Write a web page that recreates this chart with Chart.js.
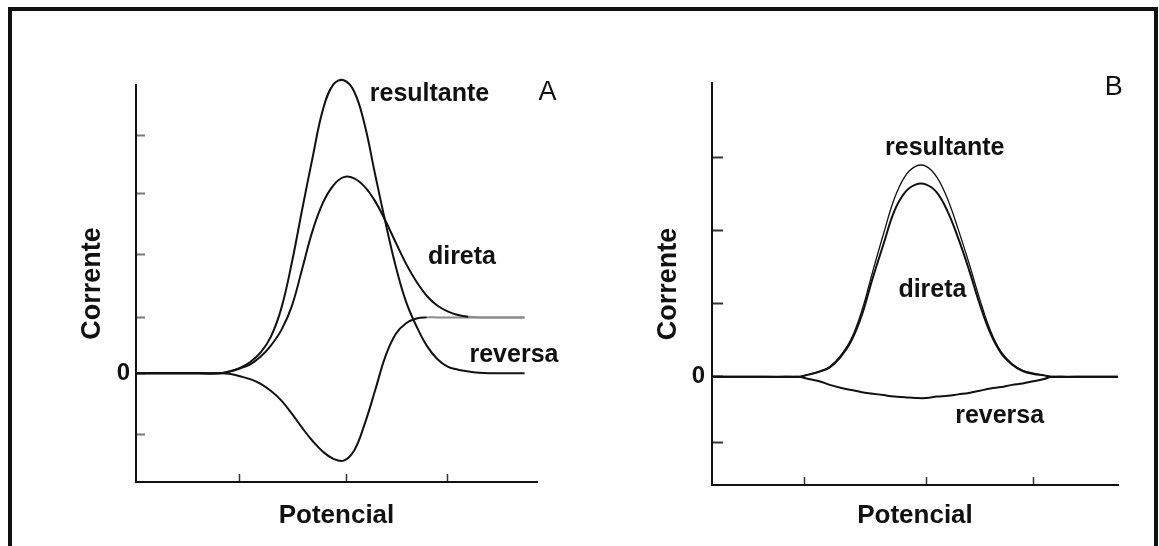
<!DOCTYPE html>
<html>
<head>
<meta charset="utf-8">
<script src="https://cdn.jsdelivr.net/npm/chart.js@4"></script>
<style>
  body { margin: 0; background: #fff; width: 1159px; height: 546px; overflow: hidden; position: relative; }
  #frame { position: absolute; left: 8px; top: 7px; width: 1150px; height: 600px; border: 4px solid #111; box-sizing: border-box; }
  canvas { position: absolute; }
</style>
</head>
<body>
<div id="frame"></div>
<canvas id="chartA" width="540" height="520" style="left:20px;top:20px"></canvas>
<canvas id="chartB" width="540" height="520" style="left:600px;top:20px"></canvas>
<script>
// panel A - potencial (x) and the three currents
var xA = [0, 0.5, 0.8, 0.9, 1.0, 1.1, 1.2, 1.3, 1.4, 1.5, 1.6, 1.7, 1.8, 1.9, 2.0, 2.1, 2.2, 2.3, 2.4, 2.5, 2.6, 2.7, 2.8, 2.9, 3.0, 3.1, 3.2, 3.3, 3.4, 3.5, 3.74];
var resultanteA = [0, 0, 0, 0.03, 0.09, 0.19, 0.35, 0.62, 1.10, 1.86, 2.76, 3.63, 4.44, 4.86, 4.93, 4.74, 4.19, 3.36, 2.55, 1.80, 1.20, 0.79, 0.46, 0.24, 0.11, 0.06, 0.03, 0.01, 0, 0, 0];
var diretaA = [0, 0, 0, 0.03, 0.08, 0.15, 0.28, 0.47, 0.73, 1.13, 1.76, 2.40, 2.87, 3.16, 3.30, 3.28, 3.14, 2.90, 2.57, 2.20, 1.84, 1.54, 1.30, 1.14, 1.04, 0.98, 0.95, 0.94, 0.94, 0.94, 0.94];
var reversaA = [0, 0, 0, -0.01, -0.05, -0.10, -0.18, -0.30, -0.46, -0.68, -0.92, -1.14, -1.32, -1.44, -1.47, -1.30, -0.86, -0.30, 0.28, 0.66, 0.84, 0.92, 0.94, 0.94, 0.94, 0.94, 0.94, 0.94, 0.94, 0.94, 0.94];
var xTicksA = [1, 2.03, 3.0];
var yTicksA = [-1.03, 0, 0.93, 2.0, 3.03, 4.0];

// panel B
var xB = [0, 0.5, 0.8, 0.9, 1.0, 1.1, 1.2, 1.3, 1.4, 1.5, 1.6, 1.7, 1.8, 1.9, 2.0, 2.1, 2.2, 2.3, 2.4, 2.5, 2.6, 2.7, 2.8, 2.9, 3.0, 3.1, 3.17, 3.4, 3.79];
var resultanteB = [0, 0, 0, 0.03, 0.07, 0.14, 0.29, 0.52, 0.91, 1.44, 1.95, 2.43, 2.74, 2.88, 2.88, 2.73, 2.43, 2.01, 1.55, 1.06, 0.63, 0.34, 0.18, 0.09, 0.05, 0.02, 0, 0, 0];
var diretaB = [0, 0, 0, 0.03, 0.07, 0.13, 0.27, 0.49, 0.85, 1.35, 1.81, 2.26, 2.52, 2.63, 2.63, 2.52, 2.26, 1.89, 1.46, 0.99, 0.59, 0.32, 0.17, 0.08, 0.04, 0.02, 0, 0, 0];
var reversaB = [0, 0, 0, -0.03, -0.06, -0.11, -0.15, -0.18, -0.21, -0.23, -0.25, -0.27, -0.28, -0.29, -0.29, -0.27, -0.26, -0.24, -0.22, -0.19, -0.16, -0.14, -0.11, -0.09, -0.06, -0.03, 0, 0, 0];
var xTicksB = [0.86, 2, 3];
var yTicksB = [-0.9, 0, 1, 2, 3];

// curve labels, placed in data units
var labelsA = ['resultante', 'direta', 'reversa'];
var labelXA = [2.25, 2.81, 3.21];
var labelYA = [4.58, 1.84, 0.19];
var labelsB = ['resultante', 'direta', 'reversa'];
var labelXB = [1.615, 1.74, 2.27];
var labelYB = [3.03, 1.09, -0.63];
var panelLetter = ['A', 'B'];
var letterX = [3.96, 3.75];
var letterY = [4.6, 3.85];

Chart.defaults.font.family = '"Liberation Sans", Arial, sans-serif';
Chart.defaults.color = '#000';

function pts(xs, ys) {
  return xs.map(function (x, i) { return {x: x, y: ys[i]}; });
}

// the flat part on the right of panel A is drawn lighter in the original
function plateauGray(ctx) {
  var a = ctx.p0.parsed, b = ctx.p1.parsed;
  if (a.x >= 2.8 && Math.abs(a.y - 0.94) < 0.02 && Math.abs(b.y - 0.94) < 0.02) return '#8a8a8a';
  return undefined;
}

var labelPlugin = {
  id: 'curveLabels',
  afterDatasetsDraw: function (chart, args, opts) {
    var ctx = chart.ctx, sx = chart.scales.x, sy = chart.scales.y;
    ctx.save();
    ctx.fillStyle = '#111';
    ctx.textBaseline = 'alphabetic';
    ctx.font = 'bold 25px "Liberation Sans", Arial, sans-serif';
    ctx.textAlign = 'left';
    opts.texts.forEach(function (t, i) {
      ctx.fillText(t, sx.getPixelForValue(opts.xs[i]), sy.getPixelForValue(opts.ys[i]));
    });
    ctx.font = '27px "Liberation Sans", Arial, sans-serif';
    ctx.textAlign = 'center';
    ctx.fillText(opts.letter, sx.getPixelForValue(opts.lx), sy.getPixelForValue(opts.ly));
    ctx.restore();
  }
};

function makeChart(id, p) {
  var line = function (label, data, w) {
    return {
      label: label, data: data, borderColor: '#111', borderWidth: w,
      pointRadius: 0, tension: 0.4, clip: false,
      segment: p.gray ? {borderColor: plateauGray} : {}
    };
  };
  return new Chart(document.getElementById(id), {
    type: 'line',
    data: {
      datasets: [
        line('resultante', pts(p.x, p.res), p.resWidth),
        line('direta', pts(p.x, p.dir), 2),
        line('reversa', pts(p.x, p.rev), 2)
      ]
    },
    options: {
      responsive: false,
      animation: false,
      events: [],
      layout: {padding: {left: p.padLeft, top: p.padTop, right: p.padRight, bottom: 0}},
      plugins: {
        legend: {display: false},
        tooltip: {enabled: false},
        curveLabels: {texts: p.labels, xs: p.lx, ys: p.ly, letter: p.letter, lx: p.letX, ly: p.letY}
      },
      scales: {
        x: {
          type: 'linear', min: 0, max: p.xMax,
          afterBuildTicks: function (s) { s.ticks = p.xTicks.map(function (v) { return {value: v}; }); },
          afterFit: function (s) { s.height = p.xHeight; },
          ticks: {display: false},
          grid: {drawOnChartArea: false, tickLength: -8, tickColor: '#333', tickWidth: 1.5},
          border: {color: '#111', width: 2},
          title: {display: true, text: 'Potencial', font: {size: 26, weight: 'bold'}, color: '#111', padding: {top: 0, bottom: 9}}
        },
        y: {
          type: 'linear', min: p.yMin, max: p.yMax,
          afterBuildTicks: function (s) { s.ticks = p.yTicks.map(function (v) { return {value: v}; }); },
          afterFit: function (s) { s.width = 76; },
          ticks: {
            padding: p.tickPad, color: '#111', font: {size: 24, weight: 'bold'},
            callback: function (v) { return v === 0 ? '0' : ''; }
          },
          grid: {drawOnChartArea: false, tickLength: p.yTickLen, tickColor: p.yTickColor, tickWidth: 2},
          border: {color: '#111', width: 2},
          title: {display: true, text: 'Corrente', font: {size: 27, weight: 'bold'}, color: '#111', padding: {top: 16, bottom: 0}}
        }
      }
    },
    plugins: [labelPlugin]
  });
}

makeChart('chartA', {
  x: xA, res: resultanteA, dir: diretaA, rev: reversaA, resWidth: 2, gray: true,
  xMax: 3.86, yMin: -1.83, yMax: 4.85, xTicks: xTicksA, yTicks: yTicksA,
  padLeft: 40, padTop: 65, padRight: 23, xHeight: 58, tickPad: 15, yTickLen: -9, yTickColor: '#777',
  labels: labelsA, lx: labelXA, ly: labelYA, letter: panelLetter[0], letX: letterX[0], letY: letterY[0]
});

makeChart('chartB', {
  x: xB, res: resultanteB, dir: diretaB, rev: reversaB, resWidth: 1.3, gray: false,
  xMax: 3.79, yMin: -1.48, yMax: 4.02, xTicks: xTicksB, yTicks: yTicksB,
  padLeft: 36, padTop: 63, padRight: 22, xHeight: 55, tickPad: 18, yTickLen: -11, yTickColor: '#333',
  labels: labelsB, lx: labelXB, ly: labelYB, letter: panelLetter[1], letX: letterX[1], letY: letterY[1]
});
</script>
</body>
</html>
